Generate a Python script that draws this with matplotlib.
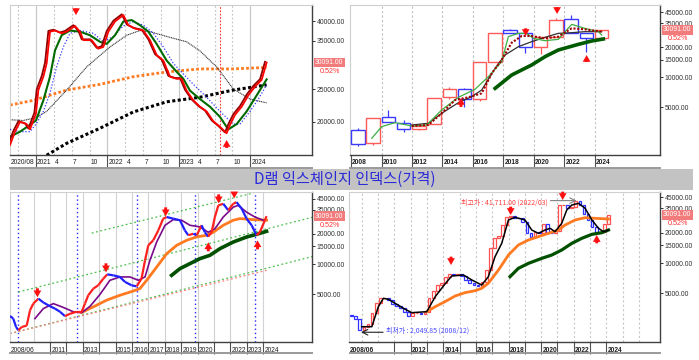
import matplotlib
matplotlib.use("Agg")
import matplotlib.pyplot as plt
import matplotlib.transforms as mtransforms
from matplotlib.collections import LineCollection
from matplotlib.patches import Rectangle
from matplotlib.lines import Line2D
import pandas as pd

plt.rcParams['font.family'] = ['Liberation Sans', 'DejaVu Sans']
KR = ['Noto Sans CJK KR', 'DejaVu Sans']

TITLE = "D램 익스체인지 인덱스(가격)"
LAST = 30091.0
CHG = "0.52%"

# ---------------- top-left : daily chart 2020/08 - 2024/03 ----------------
tl_price_x = [2020.636, 2020.706, 2020.776, 2020.869, 2020.916, 2021.0, 2021.033, 2021.103, 2021.149,
              2021.196, 2021.266, 2021.359, 2021.429, 2021.546, 2021.616, 2021.663, 2021.779, 2021.873,
              2021.943, 2022.013, 2022.106, 2022.223, 2022.293, 2022.386, 2022.503, 2022.596, 2022.689,
              2022.783, 2022.876, 2022.969, 2023.039, 2023.109, 2023.203, 2023.296, 2023.389, 2023.482,
              2023.576, 2023.669, 2023.716, 2023.786, 2023.879, 2023.972, 2024.066, 2024.159, 2024.229]
tl_price_y = [17060, 18700, 20000, 19700, 19000, 21200, 24900, 27300, 29900,
              37200, 37500, 36800, 37200, 38700, 37200, 35100, 35100, 33100,
              33500, 37200, 39900, 41700, 38900, 38000, 37500, 35100, 31700,
              30500, 27300, 26900, 26900, 24800, 23200, 22200, 21500, 20100,
              19340, 18500, 19600, 21000, 22200, 24000, 25500, 26700, 30091]
tl_green_x = [2020.636, 2020.776, 2020.916, 2021.0, 2021.103, 2021.196, 2021.266, 2021.359, 2021.476,
              2021.616, 2021.756, 2021.896, 2021.989, 2022.106, 2022.223, 2022.339, 2022.456, 2022.573,
              2022.689, 2022.829, 2022.969, 2023.063, 2023.156, 2023.296, 2023.436, 2023.576, 2023.692,
              2023.809, 2023.949, 2024.089, 2024.229]
tl_green_y = [18060, 18700, 19600, 20200, 23200, 27300, 32700, 36300, 37500,
              37200, 36300, 34700, 34200, 36300, 39900, 40300, 38900, 37200,
              34200, 30500, 28230, 26900, 24800, 23400, 22200, 20700, 19000,
              19700, 21500, 24000, 26800]
tl_blue_x = [2020.636, 2020.776, 2020.916, 2021.0, 2021.103, 2021.196, 2021.289, 2021.383, 2021.476,
             2021.616, 2021.803, 2021.943, 2022.083, 2022.223, 2022.363, 2022.503, 2022.643, 2022.783,
             2022.923, 2023.063, 2023.203, 2023.389, 2023.576, 2023.762, 2023.856, 2023.996, 2024.112,
             2024.229]
tl_blue_y = [19000, 18700, 18700, 19700, 21500, 24400, 29240, 33500, 36800,
             37500, 36800, 34700, 36000, 38700, 39900, 38900, 36800, 33500,
             29900, 27800, 25900, 23700, 21500, 19700, 19700, 21500, 23400,
             25800]
tl_black_x = [2020.636, 2020.823, 2021.0, 2021.149, 2021.429, 2021.709, 2022.036, 2022.269, 2022.456,
              2022.596, 2022.829, 2023.109, 2023.296, 2023.529, 2023.762, 2023.996, 2024.229]
tl_black_y = [20300, 20200, 20600, 21500, 24900, 29200, 33500, 36300, 37500,
              37200, 36000, 34700, 32600, 29200, 25100, 23400, 22800]
tl_orange_x = [2020.636, 2020.963, 2021.429, 2021.896, 2022.363, 2022.829, 2023.296, 2023.762, 2024.229]
tl_orange_y = [22460, 23200, 24900, 25900, 27300, 28200, 28800, 28800, 29100]
tl_long_x = [2021.149, 2021.429, 2021.896, 2022.363, 2022.829, 2023.296, 2023.762, 2024.229]
tl_long_y = [15900, 17260, 19150, 21420, 22970, 23700, 24900, 25800]
tl_arrow_x = [2021.56, 2023.669]
tl_arrow_from = [43750, 16720]
tl_arrow_to = [41700, 17660]
tl_mark_x = 2023.58
tl_year_ticks = [2021, 2022, 2023, 2024]
tl_month_ticks = [2020.75, 2021.25, 2021.5, 2021.75, 2022.25, 2022.5, 2022.75, 2023.25, 2023.5, 2023.75]
tl_labels = [(2020.636, "2020/08"), (2021, "2021"), (2021.25, "4"), (2021.5, "7"), (2021.75, "10"),
             (2022, "2022"), (2022.25, "4"), (2022.5, "7"), (2022.75, "10"),
             (2023, "2023"), (2023.25, "4"), (2023.5, "7"), (2023.75, "10"), (2024, "2024")]
tl_yticks = [20000, 25000, 35000, 40000]

# ---------------- top-right : yearly candles ----------------
tr_years = list(range(2008, 2025))
tr_open = [2961, 2175, 3968, 3509, 3008, 3402, 6303, 7584, 6018, 14160, 29890, 27670, 20330, 25230, 38250, 27670, 25030]
tr_high = [3078, 3938, 4702, 3732, 3324, 6254, 8064, 7760, 14160, 27670, 30360, 28100, 25230, 39140, 42270, 27670, 30091]
tr_low = [2046, 2094, 3535, 2806, 2960, 3402, 6064, 5078, 5745, 14160, 27670, 17430, 17160, 25230, 27670, 18000, 25030]
tr_close = [2142, 3938, 3535, 3008, 3248, 6254, 7584, 6064, 14160, 27670, 27670, 20330, 25230, 37660, 27670, 25030, 30091]
tr_green_x = [2009.36, 2010.01, 2010.89, 2011.98, 2012.97, 2013.95, 2015.05, 2016.14, 2017.02, 2017.89,
              2018.33, 2018.99, 2019.53, 2019.97, 2020.74, 2021.61, 2022.49, 2023.36, 2024.24, 2024.46]
tr_green_y = [2443, 3199, 3509, 3248, 3324, 4702, 6303, 7584, 10160, 14370,
              25620, 27670, 27670, 24650, 23350, 24080, 34070, 31060, 28760, 26630]
tr_black_x = [2011.98, 2013.08, 2013.95, 2015.05, 2015.92, 2016.58, 2017.46, 2018.11, 2018.99, 2019.86,
              2020.74, 2021.61, 2022.49, 2023.36, 2024.46]
tr_black_y = [3324, 3455, 4353, 5569, 6400, 7464, 12320, 16770, 20330, 22820,
              25230, 27670, 28100, 28760, 28760]
tr_red_x = [2011.98, 2013.08, 2013.95, 2014.83, 2015.70, 2016.58, 2017.24, 2017.89, 2018.55, 2019.21,
            2019.86, 2020.74, 2021.61, 2022.49, 2023.36, 2024.46]
tr_red_y = [3248, 3324, 4353, 5918, 6303, 6912, 10970, 14940, 22300, 26020,
            26020, 24650, 25620, 31060, 30360, 28760]
tr_dg_x = [2017.46, 2018.55, 2019.86, 2020.74, 2021.61, 2022.93, 2023.80, 2024.57]
tr_dg_y = [7757, 10560, 13310, 16140, 18820, 21460, 23180, 24280]
tr_arrow_x = [2021.53, 2019.47, 2015.22, 2023.47]
tr_arrow_from = [50870, 31090, 5040, 14260]
tr_arrow_to = [43270, 26020, 6205, 16770]
tr_grid = [2010, 2012, 2014, 2016, 2018, 2020, 2022, 2024]
tr_labels = [(y, str(y)) for y in [2008, 2010, 2012, 2014, 2016, 2018, 2020, 2022, 2024]]
tr_yticks = [5000, 10000, 15000, 20000, 35000, 45000]

# ---------------- bottom-left : monthly line chart 2008/06 - ----------------
bl_price_x = [2008.56, 2008.76, 2008.93, 2009.07, 2009.27, 2009.58, 2009.78, 2009.98, 2010.29, 2010.59,
              2011.00, 2011.30, 2011.61, 2011.91, 2012.22, 2012.62, 2012.93, 2013.13, 2013.33, 2013.64,
              2013.94, 2014.25, 2014.49, 2014.86, 2015.26, 2015.57, 2015.97, 2016.28, 2016.58, 2016.79,
              2016.99, 2017.29, 2017.60, 2017.90, 2018.11, 2018.51, 2018.92, 2019.22, 2019.43, 2019.73,
              2019.94, 2020.24, 2020.44, 2020.64, 2020.85, 2021.05, 2021.26, 2021.56, 2021.86, 2022.17,
              2022.37, 2022.68, 2022.98, 2023.29, 2023.59, 2023.79, 2024.10, 2024.20]
bl_price_y = [3038, 2864, 2360, 2188, 2360, 2440, 3463, 4040, 4530, 4150,
              3800, 3600, 3350, 3030, 3200, 3350, 3350, 4040, 4890, 5700,
              6150, 7170, 7910, 7730, 7450, 6650, 6150, 6000, 7170, 10900,
              15400, 17270, 21700, 28440, 29500, 28440, 27400, 21700, 19400, 20100,
              19400, 24400, 20800, 18800, 20800, 29500, 38550, 40000, 34500, 40000,
              41500, 35800, 28440, 24400, 19400, 20800, 27400, 30091]
bl_purple_x = [2010.08, 2010.59, 2011.20, 2011.81, 2012.42, 2012.93, 2013.44, 2014.05, 2014.65, 2015.26,
               2015.87, 2016.38, 2016.79, 2017.09, 2017.50, 2018.01, 2018.51, 2019.02, 2019.53, 2020.14,
               2020.64, 2021.05, 2021.56, 2022.17, 2022.47, 2022.98, 2023.49, 2024.00]
bl_purple_y = [2864, 3600, 4040, 3700, 3350, 3280, 3800, 5000, 6900, 7450,
               7450, 6900, 7450, 10900, 16600, 24400, 27800, 27400, 24400, 23500,
               20800, 22500, 29500, 37000, 38550, 33000, 29500, 27400]
bl_orange_x = [2012.93, 2013.64, 2014.45, 2015.26, 2016.08, 2016.48, 2016.89, 2017.50, 2018.11, 2018.72,
               2019.33, 2019.94, 2020.55, 2020.95, 2021.56, 2022.17, 2022.58, 2023.39, 2024.20]
bl_orange_y = [3300, 3750, 4370, 4890, 5400, 5700, 6900, 9350, 12700, 15400,
               17300, 18700, 19400, 20800, 24400, 27400, 28440, 27800, 27400]
bl_dg_x = [2018.41, 2018.92, 2019.53, 2020.14, 2020.75, 2021.36, 2022.17, 2022.98, 2023.59, 2024.20]
bl_dg_y = [7730, 9020, 10120, 11350, 12250, 14280, 16620, 18640, 19830, 21240]
bl_channels = {
    'upper': ([2013.54, 2023.39], [20400, 51200]),
    'middle': ([2009.07, 2027.05], [5270, 29500]),
    'lower': ([2008.56, 2027.05], [2030, 11970]),
}
bl_support_x = [2008.56, 2024.20]
bl_support_y = [2030, 8670]
bl_cycle_x = [2009.07, 2012.66, 2016.28, 2019.83, 2023.49]
bl_arrow_x = [2010.23, 2014.41, 2018.05, 2021.28, 2022.23, 2020.65, 2023.65]
bl_arrow_from = [5745, 10190, 36860, 49650, 52600, 13420, 14050]
bl_arrow_to = [4670, 8280, 29980, 40380, 45300, 16500, 17270]
bl_grid = list(range(2010, 2025))
bl_seps = list(range(2011, 2025))
bl_labels = [(2008.56, "2008/06")] + [(y, str(y)) for y in
                                      [2011, 2013, 2015, 2016, 2017, 2018, 2019, 2020, 2022, 2023, 2024]]
bl_yticks = [5000, 10000, 15000, 20000, 35000, 45000]

# ---------------- bottom-right : quarterly candles ----------------
br_first = "2008Q2"
br_last = "2024Q1"
br_first_open = 3050
br_close = [2950, 2800, 2150,
            2330, 2450, 3200, 4000,
            4450, 4500, 4250, 3950,
            3750, 3550, 3280, 3000,
            3150, 3200, 3100, 3250,
            4500, 5300, 6050, 6400,
            7300, 7800, 7600, 7700,
            7400, 6800, 6300, 6050,
            5900, 6500, 8500, 14000,
            17600, 18500, 24000, 28500,
            29300, 28300, 27800, 25500,
            19700, 18300, 20500, 19800,
            24500, 20000, 19700, 21000,
            37500, 38000, 35100, 36000,
            41000, 37500, 30800, 26900,
            22700, 20000, 20300, 24500,
            30091]
br_black_x = [2008.99, 2009.61, 2010.01, 2010.32, 2010.63, 2011.04, 2011.55, 2012.06, 2012.98, 2013.50,
              2014.10, 2014.51, 2015.23, 2015.75, 2016.35, 2016.76, 2017.17, 2017.58, 2017.99, 2018.40,
              2019.01, 2019.42, 2019.83, 2020.24, 2020.55, 2020.85, 2021.26, 2021.57, 2021.88, 2022.29,
              2022.70, 2023.11, 2023.52, 2023.82, 2024.13]
br_black_y = [2329, 2329, 3681, 4456, 4355, 3974, 3544, 3209, 3283, 4628,
              6186, 7428, 7599, 6779, 6045, 7316, 11570, 15690, 26770, 28460,
              26770, 21290, 19720, 21290, 22120, 20490, 24800, 33650, 37730, 39200,
              34960, 26770, 22120, 20490, 21290]
br_orange_x = [2012.98, 2013.50, 2014.10, 2014.72, 2015.33, 2015.95, 2016.35, 2016.76, 2017.38, 2017.99,
               2018.60, 2019.22, 2019.83, 2020.45, 2021.06, 2021.47, 2022.08, 2022.70, 2023.31, 2024.13]
br_orange_y = [3283, 3681, 4129, 4700, 5073, 5311, 5602, 6295, 8520, 12010,
               15110, 16940, 18280, 19720, 21290, 23880, 26770, 28230, 27810, 27380]
br_dg_x = [2018.09, 2018.60, 2019.22, 2020.04, 2020.65, 2021.26, 2021.88, 2022.49, 2023.11, 2023.72, 2024.13]
br_dg_y = [7316, 8852, 9926, 11130, 12010, 13470, 15690, 17590, 19280, 20030, 21290]
br_arrow_x = [2014.47, 2018.13, 2021.32, 2023.41]
br_arrow_from = [11560, 36300, 51200, 15690]
br_arrow_to = [9550, 30010, 42270, 18970]
br_high_text = "최고가 : 41,711.00 (2022/03)"
br_high_val = 41711
br_high_date = 2022.17
br_low_text = "최저가 : 2,049.85 (2008/12)"
br_low_val = 2049.85
br_low_date = 2008.95
br_grid = list(range(2009, 2027))
br_seps = list(range(2011, 2025))
br_labels = [(2008.21, "2008/06")] + [(y, str(y)) for y in [2012, 2014, 2016, 2018, 2020, 2022, 2024]]
br_yticks = [5000, 10000, 15000, 20000, 35000, 45000]

# =====================================================================
W, H = 699, 360
fig = plt.figure(figsize=(W / 100, H / 100), dpi=100)
fig.patch.set_facecolor('white')
YFS = 4.9
XFS = 4.8


def add_ax(x0, y0, x1, y1):
    return fig.add_axes([x0 / W, 1 - y1 / H, (x1 - x0) / W, (y1 - y0) / H])


def setup(ax, xlim, ylim, yticks):
    ax.set_yscale('log')
    ax.set_xlim(*xlim)
    ax.set_ylim(*ylim)
    ax.yaxis.tick_right()
    ax.set_yticks(yticks)
    ax.set_yticklabels([f"{t:.2f}" for t in yticks], fontsize=YFS, color='#202020')
    ax.yaxis.set_minor_locator(plt.NullLocator())
    ax.tick_params(axis='y', which='major', length=2.5, width=0.7, pad=1, colors='#303030')
    for s in ['left', 'top']:
        ax.spines[s].set_color('#cfcfcf')
        ax.spines[s].set_linewidth(0.8)
    for s in ['right', 'bottom']:
        ax.spines[s].set_color('#404040')
        ax.spines[s].set_linewidth(1.0)


def xband(ax, seps, labels, bold=False):
    ax.set_xticks(seps)
    ax.set_xticklabels([])
    ax.xaxis.set_minor_locator(plt.NullLocator())
    ax.tick_params(axis='x', length=8.5, width=0.8, colors='#505050', direction='out')
    tr = mtransforms.offset_copy(ax.get_xaxis_transform(), fig=fig, x=1.2, y=-4.5, units='dots')
    for x, s in labels:
        ax.text(x, 0, s, transform=tr, ha='left', va='top', fontsize=XFS,
                fontweight='bold' if bold else 'normal', color='#202020', clip_on=False)


def last_label(ax):
    tr = mtransforms.blended_transform_factory(ax.transAxes, ax.transData)
    t1 = mtransforms.offset_copy(tr, fig=fig, x=3, y=0, units='dots')
    ax.text(1, LAST, f"{LAST:.2f}", transform=t1, ha='left', va='center', fontsize=YFS, color='white',
            bbox=dict(boxstyle='square,pad=0.2', facecolor='#f27b7b', edgecolor='none'), clip_on=False)
    t2 = mtransforms.offset_copy(tr, fig=fig, x=18, y=-9, units='dots')
    ax.text(1, LAST, CHG, transform=t2, ha='center', va='center', fontsize=YFS + 0.3, color='#ff3030',
            clip_on=False)


def arrows(ax, xs, y_from, y_to):
    for x, a, b in zip(xs, y_from, y_to):
        ax.annotate('', xy=(x, b), xytext=(x, a),
                    arrowprops=dict(arrowstyle='simple,head_length=0.7,head_width=0.8,tail_width=0.3',
                                    color='#ff1010', lw=0, shrinkA=0, shrinkB=0, mutation_scale=7),
                    annotation_clip=False, zorder=6)


# ---------------- TL ----------------
tl = add_ax(10, 5, 312, 155)
setup(tl, (2020.636, 2024.864), (15930, 44700), tl_yticks)
for x in tl_year_ticks:
    tl.axvline(x, color='#c8c8c8', lw=0.9, zorder=0)
for x in tl_month_ticks:
    tl.axvline(x, color='#c0c0c0', lw=0.8, ls=(0, (1.5, 2)), zorder=0)
tl.axvline(tl_mark_x, color='#ff3030', lw=0.8, ls=(0, (1.5, 1.5)), zorder=1)
xband(tl, tl_year_ticks, tl_labels)
tl.plot(tl_long_x, tl_long_y, color='black', lw=2.2, ls=(0, (1, 0.8)), zorder=2)
tl.plot(tl_orange_x, tl_orange_y, color='#ff7a20', lw=2.0, ls=(0, (1, 0.8)), zorder=2)
tl.plot(tl_black_x, tl_black_y, color='#303030', lw=0.8, ls=(0, (1, 0.6)), zorder=2)
tl.plot(tl_blue_x, tl_blue_y, color='#3838ff', lw=0.9, ls=(0, (1, 1.5)), zorder=3)
tl.plot(tl_green_x, tl_green_y, color='#006a00', lw=1.5, zorder=4)
shift = mtransforms.offset_copy(tl.transData, fig=fig, x=-1.6, y=0.8, units='dots')
tl.plot(tl_price_x, tl_price_y, color='#900000', lw=1.3, transform=shift, zorder=5)
tl.plot(tl_price_x, tl_price_y, color='#ff0000', lw=1.3, zorder=5)
arrows(tl, tl_arrow_x, tl_arrow_from, tl_arrow_to)
last_label(tl)

# ---------------- TR ----------------
trx = add_ax(350, 5, 660, 155)
setup(trx, (2007.93, 2028.29), (1660, 53300), tr_yticks)
for x in tr_grid:
    trx.axvline(x, color='#c0c0c0', lw=0.8, ls=(0, (2, 2)), zorder=0)
xband(trx, [y for y, _ in tr_labels], tr_labels, bold=True)
for y, o, h, l, c in zip(tr_years, tr_open, tr_high, tr_low, tr_close):
    col = '#ff5a5a' if c >= o else '#3a3aff'
    xc = y + 0.45
    trx.vlines(xc, l, h, color=col, lw=0.9, zorder=2)
    lo, hi = min(o, c), max(o, c)
    trx.bar(xc, hi - lo, bottom=lo, width=0.88, facecolor='white', edgecolor=col, lw=1.0, zorder=3)
trx.plot(tr_dg_x, tr_dg_y, color='#005a00', lw=2.6, zorder=4)
trx.plot(tr_black_x, tr_black_y, color='#303030', lw=0.9, zorder=4)
trx.plot(tr_green_x, tr_green_y, color='#3cb043', lw=0.9, zorder=4)
trx.plot(tr_red_x, tr_red_y, color='#a00000', lw=1.5, ls=(0, (1, 0.8)), zorder=4)
arrows(trx, tr_arrow_x, tr_arrow_from, tr_arrow_to)
last_label(trx)

# ---------------- BL ----------------
bl = add_ax(10, 192, 312, 342)
setup(bl, (2008.56, 2026.97), (1673, 52400), bl_yticks)
for x in bl_grid:
    bl.axvline(x, color='#d2d2d2', lw=0.8, zorder=0)
for x in bl_cycle_x:
    bl.axvline(x, color='#2a2aff', lw=1.0, ls=(0, (1, 2)), zorder=1)
xband(bl, bl_seps, bl_labels)
for name, (xs, ys) in bl_channels.items():
    bl.plot(xs, ys, color='#4cc04c', lw=0.9, ls=(0, (1.5, 2)), zorder=1)
bl.plot(bl_support_x, bl_support_y, color='#ff8080', lw=0.9, ls=(0, (1.5, 2)), zorder=1)
bl.plot(bl_dg_x, bl_dg_y, color='#005000', lw=2.6, zorder=3)
bl.plot(bl_orange_x, bl_orange_y, color='#ff7a20', lw=2.0, zorder=3)
bl.plot(bl_purple_x, bl_purple_y, color='#7a0a8a', lw=1.2, zorder=4)
segs, cols = [], []
for i in range(len(bl_price_x) - 1):
    segs.append([(bl_price_x[i], bl_price_y[i]), (bl_price_x[i + 1], bl_price_y[i + 1])])
    cols.append('#ff2020' if bl_price_y[i + 1] >= bl_price_y[i] else '#2020ff')
bl.add_collection(LineCollection(segs, colors=cols, linewidths=1.6, zorder=5))
arrows(bl, bl_arrow_x, bl_arrow_from, bl_arrow_to)
last_label(bl)

# ---------------- BR ----------------
br = add_ax(349, 192, 660, 342)
setup(br, (2008.21, 2027.29), (1640, 50800), br_yticks)
for x in br_grid:
    br.axvline(x, color='#c8c8c8', lw=0.8, ls=(0, (2, 2)), zorder=0)
xband(br, br_seps, br_labels, bold=True)
periods = pd.period_range(br_first, br_last, freq='Q')
prev = br_first_open
for p, c in zip(periods, br_close):
    xc = p.year + (p.quarter - 1) * 0.25 + 0.125
    col = '#ff5050' if c >= prev else '#3030ff'
    lo, hi = min(prev, c), max(prev, c)
    br.bar(xc, hi - lo, bottom=lo, width=0.17, facecolor='white', edgecolor=col, lw=0.9, zorder=2)
    prev = c
br.plot(br_dg_x, br_dg_y, color='#005000', lw=2.3, zorder=3)
br.plot(br_orange_x, br_orange_y, color='#ff7a20', lw=2.0, zorder=3)
br.plot(br_black_x, br_black_y, color='black', lw=1.1, zorder=4)
arrows(br, br_arrow_x, br_arrow_from, br_arrow_to)
br.annotate('', xy=(br_high_date, br_high_val), xytext=(br_high_date - 1.6, br_high_val),
            arrowprops=dict(arrowstyle='->', color='#808080', lw=0.8, shrinkA=0, shrinkB=0), zorder=5)
br.text(br_high_date - 1.75, br_high_val * 0.955, br_high_text, ha='right', va='center',
        fontsize=5, color='#ff4040', family=KR, zorder=5)
br.annotate('', xy=(br_low_date, br_low_val), xytext=(br_low_date + 1.35, br_low_val),
            arrowprops=dict(arrowstyle='->', color='#202020', lw=0.8, shrinkA=0, shrinkB=0), zorder=5)
br.text(br_low_date + 1.5, br_low_val * 1.03, br_low_text, ha='left', va='center',
        fontsize=5, color='#4a4aff', family=KR, zorder=5)
last_label(br)

# ---------------- title band & separators ----------------
fig.add_artist(Rectangle((10 / W, 1 - 190 / H), (693 - 10) / W, 21 / H, transform=fig.transFigure,
                         facecolor='#c3c3c3', edgecolor='none', zorder=0))
fig.text(345 / W, 1 - 179.5 / H, TITLE, ha='center', va='center', fontsize=11,
         color='#2b2bd9', family=KR)
for y in (168, 353):
    for x0, x1 in ((10, 312), (350, 660)):
        fig.add_artist(Line2D([x0 / W, x1 / W], [1 - y / H, 1 - y / H], color='#9a9a9a', lw=1.4))

fig.savefig('out.png', dpi=100)
